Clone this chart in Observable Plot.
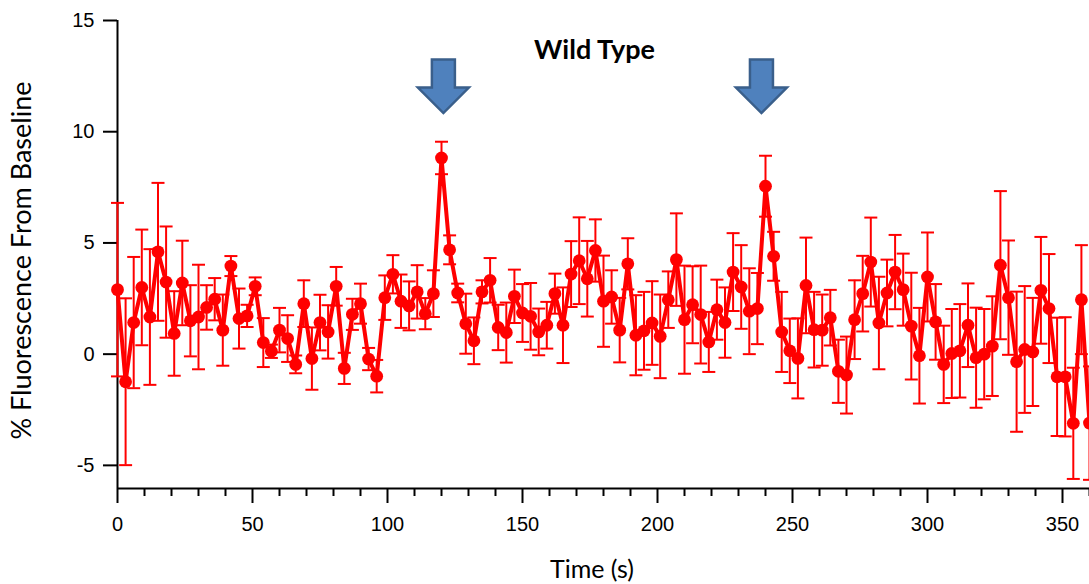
<!DOCTYPE html>
<html>
<head>
<meta charset="utf-8">
<script src="https://cdn.jsdelivr.net/npm/d3@7"></script>
<script src="https://cdn.jsdelivr.net/npm/@observablehq/plot@0.6"></script>
<style>
  html, body { margin: 0; padding: 0; background: #fff; overflow: hidden; }
  #chart { width: 1089px; height: 584px; }
</style>
</head>
<body>
<div id="chart"></div>
<script>
// ---- data ----
const times = [0,3,6,9,12,15,18,21,24,27,30,33,36,39,42,45,48,51,54,57,60,63,66,69,72,75,78,81,84,87,90,93,96,99,102,105,108,111,114,117,120,123,126,129,132,135,138,141,144,147,150,153,156,159,162,165,168,171,174,177,180,183,186,189,192,195,198,201,204,207,210,213,216,219,222,225,228,231,234,237,240,243,246,249,252,255,258,261,264,267,270,273,276,279,282,285,288,291,294,297,300,303,306,309,312,315,318,321,324,327,330,333,336,339,342,345,348,351,354,357,360];
const values = [2.9,-1.24,1.42,3.0,1.67,4.6,3.24,0.93,3.2,1.5,1.67,2.1,2.47,1.08,3.96,1.6,1.72,3.05,0.52,0.13,1.08,0.7,-0.46,2.27,-0.2,1.42,1.0,3.05,-0.64,1.79,2.27,-0.22,-0.99,2.54,3.59,2.38,2.17,2.8,1.82,2.72,8.82,4.69,2.75,1.37,0.6,2.8,3.32,1.2,0.97,2.6,1.85,1.7,1.0,1.3,2.72,1.3,3.6,4.2,3.39,4.66,2.38,2.57,1.08,4.06,0.85,1.05,1.4,0.8,2.45,4.25,1.55,2.22,1.78,0.55,2.0,1.42,3.69,3.02,1.93,2.05,7.55,4.4,1.0,0.15,-0.19,3.09,1.1,1.08,1.64,-0.77,-0.94,1.55,2.72,4.14,1.4,2.75,3.69,2.9,1.26,-0.07,3.47,1.45,-0.46,0.03,0.15,1.3,-0.16,0.0,0.36,4.0,2.54,-0.34,0.21,0.1,2.87,2.05,-1.02,-1.02,-3.11,2.45,-3.1];
const errors = [3.9,3.75,2.95,2.6,3.05,3.1,2.5,1.9,1.9,1.6,2.35,1.0,0.95,1.6,0.45,1.35,0.5,0.4,1.1,0.3,1.0,1.05,0.4,1.05,1.4,1.25,1.2,0.87,0.7,0.7,0.9,0.5,0.73,1.0,0.86,1.2,1.1,1.2,0.7,1.05,0.73,0.65,0.42,1.35,1.05,0.52,1.0,1.02,1.35,1.2,1.3,1.5,1.05,1.05,0.9,1.7,1.48,1.95,1.7,1.4,2.05,1.2,1.45,1.15,1.8,1.75,1.88,1.88,1.27,2.08,2.43,1.73,2.2,1.35,1.35,1.58,1.75,1.88,1.93,1.6,1.37,1.1,1.8,1.45,1.8,2.15,1.7,1.6,1.25,1.42,1.73,1.77,1.7,2.0,2.08,1.5,1.67,1.62,2.4,2.15,2.0,1.7,1.74,2.0,2.1,1.88,2.25,2.03,2.24,3.33,2.57,3.15,2.85,2.43,2.4,2.45,2.66,2.68,2.5,2.45,2.55];
const yTicks = [-5, 0, 5, 10, 15];
const xTicks = [0, 50, 100, 150, 200, 250, 300, 350];
const xMinorTicks = [10,20,30,40,60,70,80,90,110,120,130,140,160,170,180,190,210,220,230,240,260,270,280,290,310,320,330,340,360];
const stimulusTimes = [120.7, 238.5];
const titleText = "Wild Type";
const xLabel = "Time (s)";
const yLabel = "% Fluorescence From Baseline";

const data = times.map((t, i) => ({t, v: values[i], e: errors[i]}));

const X_DOMAIN = [0, 360];
const Y_DOMAIN = [-6.04, 15];
const RED = "#ff0000";
const LABEL_FONT = "Lato, 'Open Sans', sans-serif";

const capSymbol = { draw(ctx) { ctx.moveTo(-6.5, 0); ctx.lineTo(6.5, 0); } };
const arrowSymbol = { draw(ctx) {
  ctx.moveTo(-11.5, -27); ctx.lineTo(11.5, -27); ctx.lineTo(11.5, 1);
  ctx.lineTo(25.5, 1); ctx.lineTo(0, 26.5); ctx.lineTo(-25.5, 1);
  ctx.lineTo(-11.5, 1); ctx.closePath();
} };

const chart = Plot.plot({
  width: 1089,
  height: 584,
  marginLeft: 117,
  marginRight: 0,
  marginTop: 20,
  marginBottom: 96,
  style: { fontFamily: "'Liberation Sans', Arial, sans-serif", background: "#fff", color: "#000" },
  x: { domain: X_DOMAIN },
  y: { domain: Y_DOMAIN },
  marks: [
    Plot.axisY({ ticks: yTicks, tickSize: 14, tickPadding: 9, strokeWidth: 2, fontSize: 20, label: null, tickFormat: d => String(d) }),
    Plot.axisX({ ticks: xTicks, tickSize: 15, tickPadding: 13, strokeWidth: 2, fontSize: 20, label: null, tickFormat: d => String(d) }),
    Plot.axisX({ ticks: xMinorTicks, tickSize: 8, strokeWidth: 2, text: null, label: null }),
    Plot.ruleX([X_DOMAIN[0]], { y1: Y_DOMAIN[0], y2: Y_DOMAIN[1], stroke: "#000", strokeWidth: 2 }),
    Plot.ruleY([Y_DOMAIN[0]], { x1: X_DOMAIN[0], x2: X_DOMAIN[1], stroke: "#000", strokeWidth: 2 }),
    Plot.ruleX(data, { x: "t", y1: d => d.v - d.e, y2: d => d.v + d.e, stroke: RED, strokeWidth: 2 }),
    Plot.dot(data, { x: "t", y: d => d.v + d.e, symbol: capSymbol, fill: "none", stroke: RED, strokeWidth: 2 }),
    Plot.dot(data, { x: "t", y: d => d.v - d.e, symbol: capSymbol, fill: "none", stroke: RED, strokeWidth: 2 }),
    Plot.line(data, { x: "t", y: "v", stroke: RED, strokeWidth: 4, strokeLinejoin: "round" }),
    Plot.dot(data, { x: "t", y: "v", r: 6.4, fill: RED, stroke: "none" }),
    Plot.dot(stimulusTimes, { x: d => d, y: 12.03, symbol: arrowSymbol, fill: "#4f81bd", stroke: "#3a5f8b", strokeWidth: 2.5 }),
    Plot.text([titleText], { frameAnchor: "top", lineAnchor: "middle", dx: -9, dy: 30, fontSize: 27, fontWeight: "bold", fontFamily: LABEL_FONT, fill: "#000" }),
    Plot.text([xLabel], { frameAnchor: "bottom", lineAnchor: "middle", dx: -11.5, dy: 81, fontSize: 25, fontFamily: LABEL_FONT, fill: "#000" }),
    Plot.text([yLabel], { frameAnchor: "left", textAnchor: "middle", lineAnchor: "middle", rotate: -90, dx: -95, dy: 6, fontSize: 27, fontFamily: LABEL_FONT, fill: "#000" })
  ]
});
document.getElementById("chart").appendChild(chart);
</script>
</body>
</html>
